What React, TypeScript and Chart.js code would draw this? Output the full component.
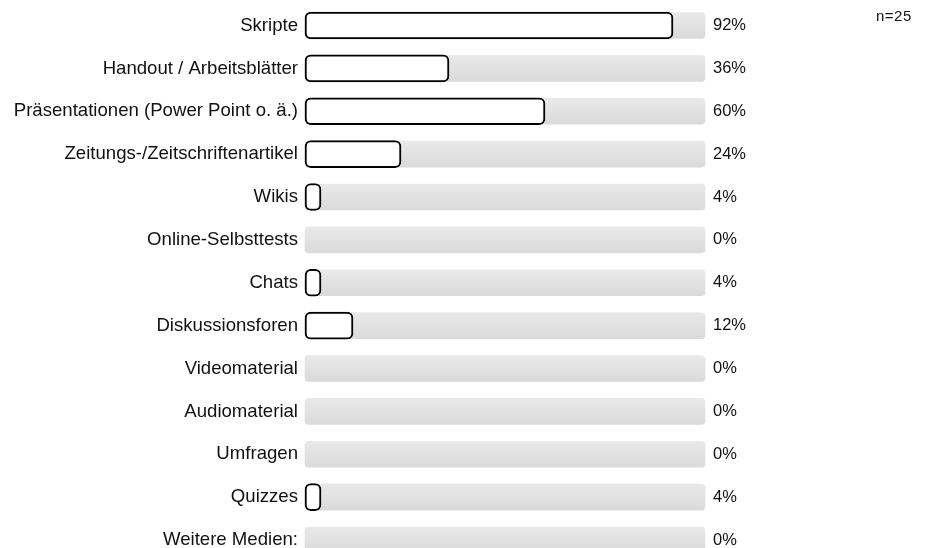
import React, { useEffect, useRef } from "react";
import { Chart, registerables } from "chart.js";

Chart.register(...registerables);

const categories = [
  "Skripte",
  "Handout / Arbeitsblätter",
  "Präsentationen (Power Point o. ä.)",
  "Zeitungs-/Zeitschriftenartikel",
  "Wikis",
  "Online-Selbsttests",
  "Chats",
  "Diskussionsforen",
  "Videomaterial",
  "Audiomaterial",
  "Umfragen",
  "Quizzes",
  "Weitere Medien:",
];

const percentValues = [92, 36, 60, 24, 4, 0, 4, 12, 0, 0, 0, 4, 0];
const percentLabels = percentValues.map((v) => `${v}%`);
const trackValues = categories.map(() => 100);
const sampleNote = "n=25";

const FONT = "'Liberation Sans', Arial, Helvetica, sans-serif";

export default function App() {
  const canvasRef = useRef<HTMLCanvasElement | null>(null);

  useEffect(() => {
    const canvas = canvasRef.current;
    if (!canvas) return;
    const chart = new Chart(canvas, {
      type: "bar",
      data: {
        labels: categories,
        datasets: [
          {
            label: "Anteil",
            data: percentValues.map((v) => (v === 0 ? null : v)),
            backgroundColor: "#ffffff",
            borderColor: "#000000",
            borderWidth: 2,
            borderRadius: 6,
            borderSkipped: false,
            barThickness: 27,
            grouped: false,
            order: 0,
            clip: false as any,
          },
          {
            label: "Track",
            data: trackValues,
            backgroundColor: (ctx: any) => {
              const c = ctx.chart;
              const ys = c.scales?.y;
              if (!ys || ctx.dataIndex === undefined) return "#e2e2e2";
              const y = ys.getPixelForValue(ctx.dataIndex);
              if (!isFinite(y)) return "#e2e2e2";
              const g = c.ctx.createLinearGradient(0, y - 13, 0, y + 13);
              g.addColorStop(0, "#e9e9e9");
              g.addColorStop(1, "#dadada");
              return g;
            },
            borderWidth: 0,
            borderRadius: 4,
            borderSkipped: false,
            barThickness: 26,
            grouped: false,
            order: 1,
            clip: false as any,
          },
        ],
      },
      options: {
        indexAxis: "y",
        animation: false,
        responsive: false,
        maintainAspectRatio: false,
        layout: { padding: { top: 25.5, bottom: 8, left: 0, right: 0 } },
        plugins: {
          legend: { display: false },
          tooltip: { enabled: false },
          title: { display: false },
        },
        scales: {
          x: {
            display: false,
            min: 0,
            max: 100,
          },
          y: {
            type: "category",
            position: "left",
            offset: false,
            grid: { display: false, drawTicks: false },
            border: { display: false },
            ticks: {
              color: "#111",
              font: { family: FONT, size: 18.6 },
              padding: 7,
              autoSkip: false,
            },
            afterFit: (scale: any) => {
              scale.width = 305;
              scale.paddingTop = 0;
              scale.paddingBottom = 0;
            },
          },
          y2: {
            type: "category",
            position: "right",
            labels: percentLabels,
            offset: false,
            grid: { display: false, drawTicks: false },
            border: { display: false },
            ticks: {
              color: "#111",
              font: { family: FONT, size: 16.5 },
              padding: 8,
              autoSkip: false,
            },
            afterFit: (scale: any) => {
              scale.width = 933 - 705;
              scale.paddingTop = 0;
              scale.paddingBottom = 0;
            },
          },
        },
      } as any,
    });
    return () => chart.destroy();
  }, []);

  return (
    <div
      style={{
        position: "fixed",
        left: 0,
        top: 0,
        width: 933,
        height: 548,
        background: "#fff",
      }}
    >
      <canvas ref={canvasRef} width={933} height={548} style={{ display: "block" }} />
      <div
        style={{
          position: "absolute",
          left: 876,
          top: 7,
          fontFamily: FONT,
          fontSize: 15,
          lineHeight: "17px",
          color: "#111",
          letterSpacing: "0.5px",
        }}
      >
        {sampleNote}
      </div>
    </div>
  );
}
